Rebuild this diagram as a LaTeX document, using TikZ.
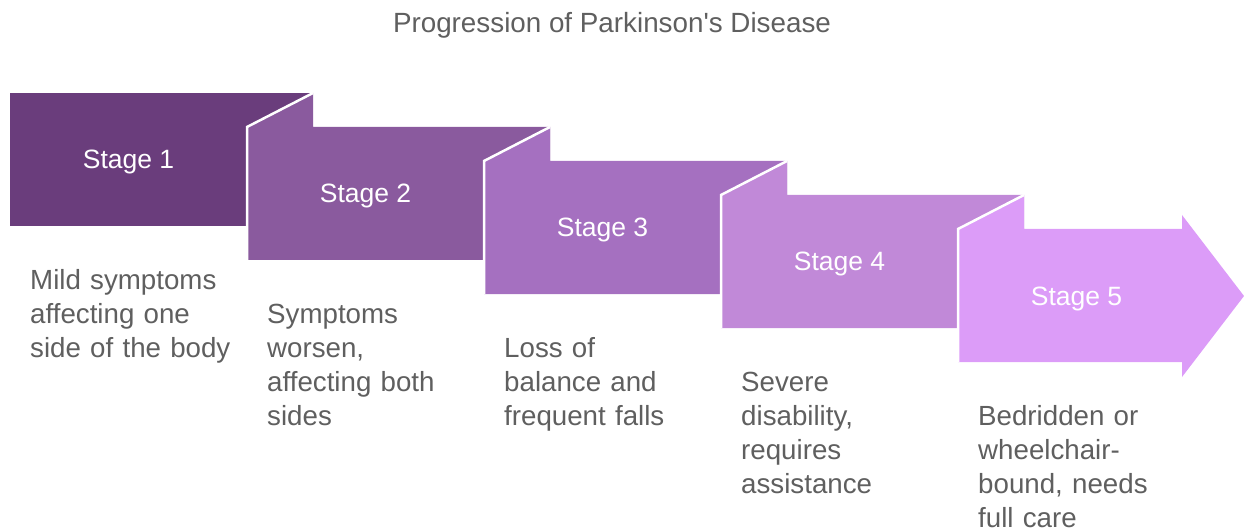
\documentclass[tikz,border=0pt]{standalone}
\usepackage{fontspec}
\setmainfont{Liberation Sans}
\definecolor{stA}{HTML}{6A3D7C}
\definecolor{stB}{HTML}{8A5A9E}
\definecolor{stC}{HTML}{A570C0}
\definecolor{stD}{HTML}{C189D8}
\definecolor{stE}{HTML}{DC9CF8}
\definecolor{textgray}{HTML}{5F5F5F}
\begin{document}
\begin{tikzpicture}[x=1pt,y=-1pt,
  desc/.style={anchor=base west,align=left,text width=230pt,inner sep=0pt,text=textgray,font=\fontsize{27.7}{34}\selectfont},
  stagelab/.style={anchor=base,text=white,inner sep=0pt,font=\fontsize{26.5}{30}\selectfont},
  fold/.style={draw=white,line width=2.5pt}]
\useasboundingbox (0,0) rectangle (1244,529);

\node[anchor=base,inner sep=0pt,text=textgray,font=\fontsize{27.8}{32}\selectfont] (title) at (612,33) {Progression of Parkinson\textquotesingle s Disease};

% first stage
\fill[stA] (10,93) rectangle (313,226);
% middle stages with folded corner
\foreach \i/\col in {1/stB,2/stC,3/stD}{
	\pgfmathsetmacro\xl{10+237*\i}
	\pgfmathsetmacro\yt{93+34*\i}
	\fill[\col] (\xl,\yt) -- ++(66,-34) -- ++(0,34) -- ++(237,0) -- ++(0,133) -- ++(-303,0) -- cycle;
	\draw[fold] (\xl,\yt) ++(66,-34) -- (\xl,\yt) -- ++(0,133);
}
% last stage as arrow
\fill[stE] (958,229) -- ++(66,-34) -- ++(0,34) -- (1182,229) -- (1182,215) -- (1244,296) -- (1182,377) -- (1182,362) -- (958,362) -- cycle;
\draw[fold] (1024,195) -- (958,229) -- (958,362);

\foreach \i in {1,...,5}
	\node[stagelab] (s\i) at ({128.5+237*(\i-1)},{169+34*(\i-1)}) {Stage \i};

\foreach \i/\txt in {1/{Mild symptoms\\affecting one\\side of the body},
	2/{Symptoms\\worsen,\\affecting both\\sides},
	3/{Loss of\\balance and\\frequent falls},
	4/{Severe\\disability,\\requires\\assistance},
	5/{Bedridden or\\wheelchair-\\bound, needs\\full care}}
	\node[desc] (d\i) at ({30+237*(\i-1)},{289+34*(\i-1)}) {\txt};

\end{tikzpicture}
\end{document}
